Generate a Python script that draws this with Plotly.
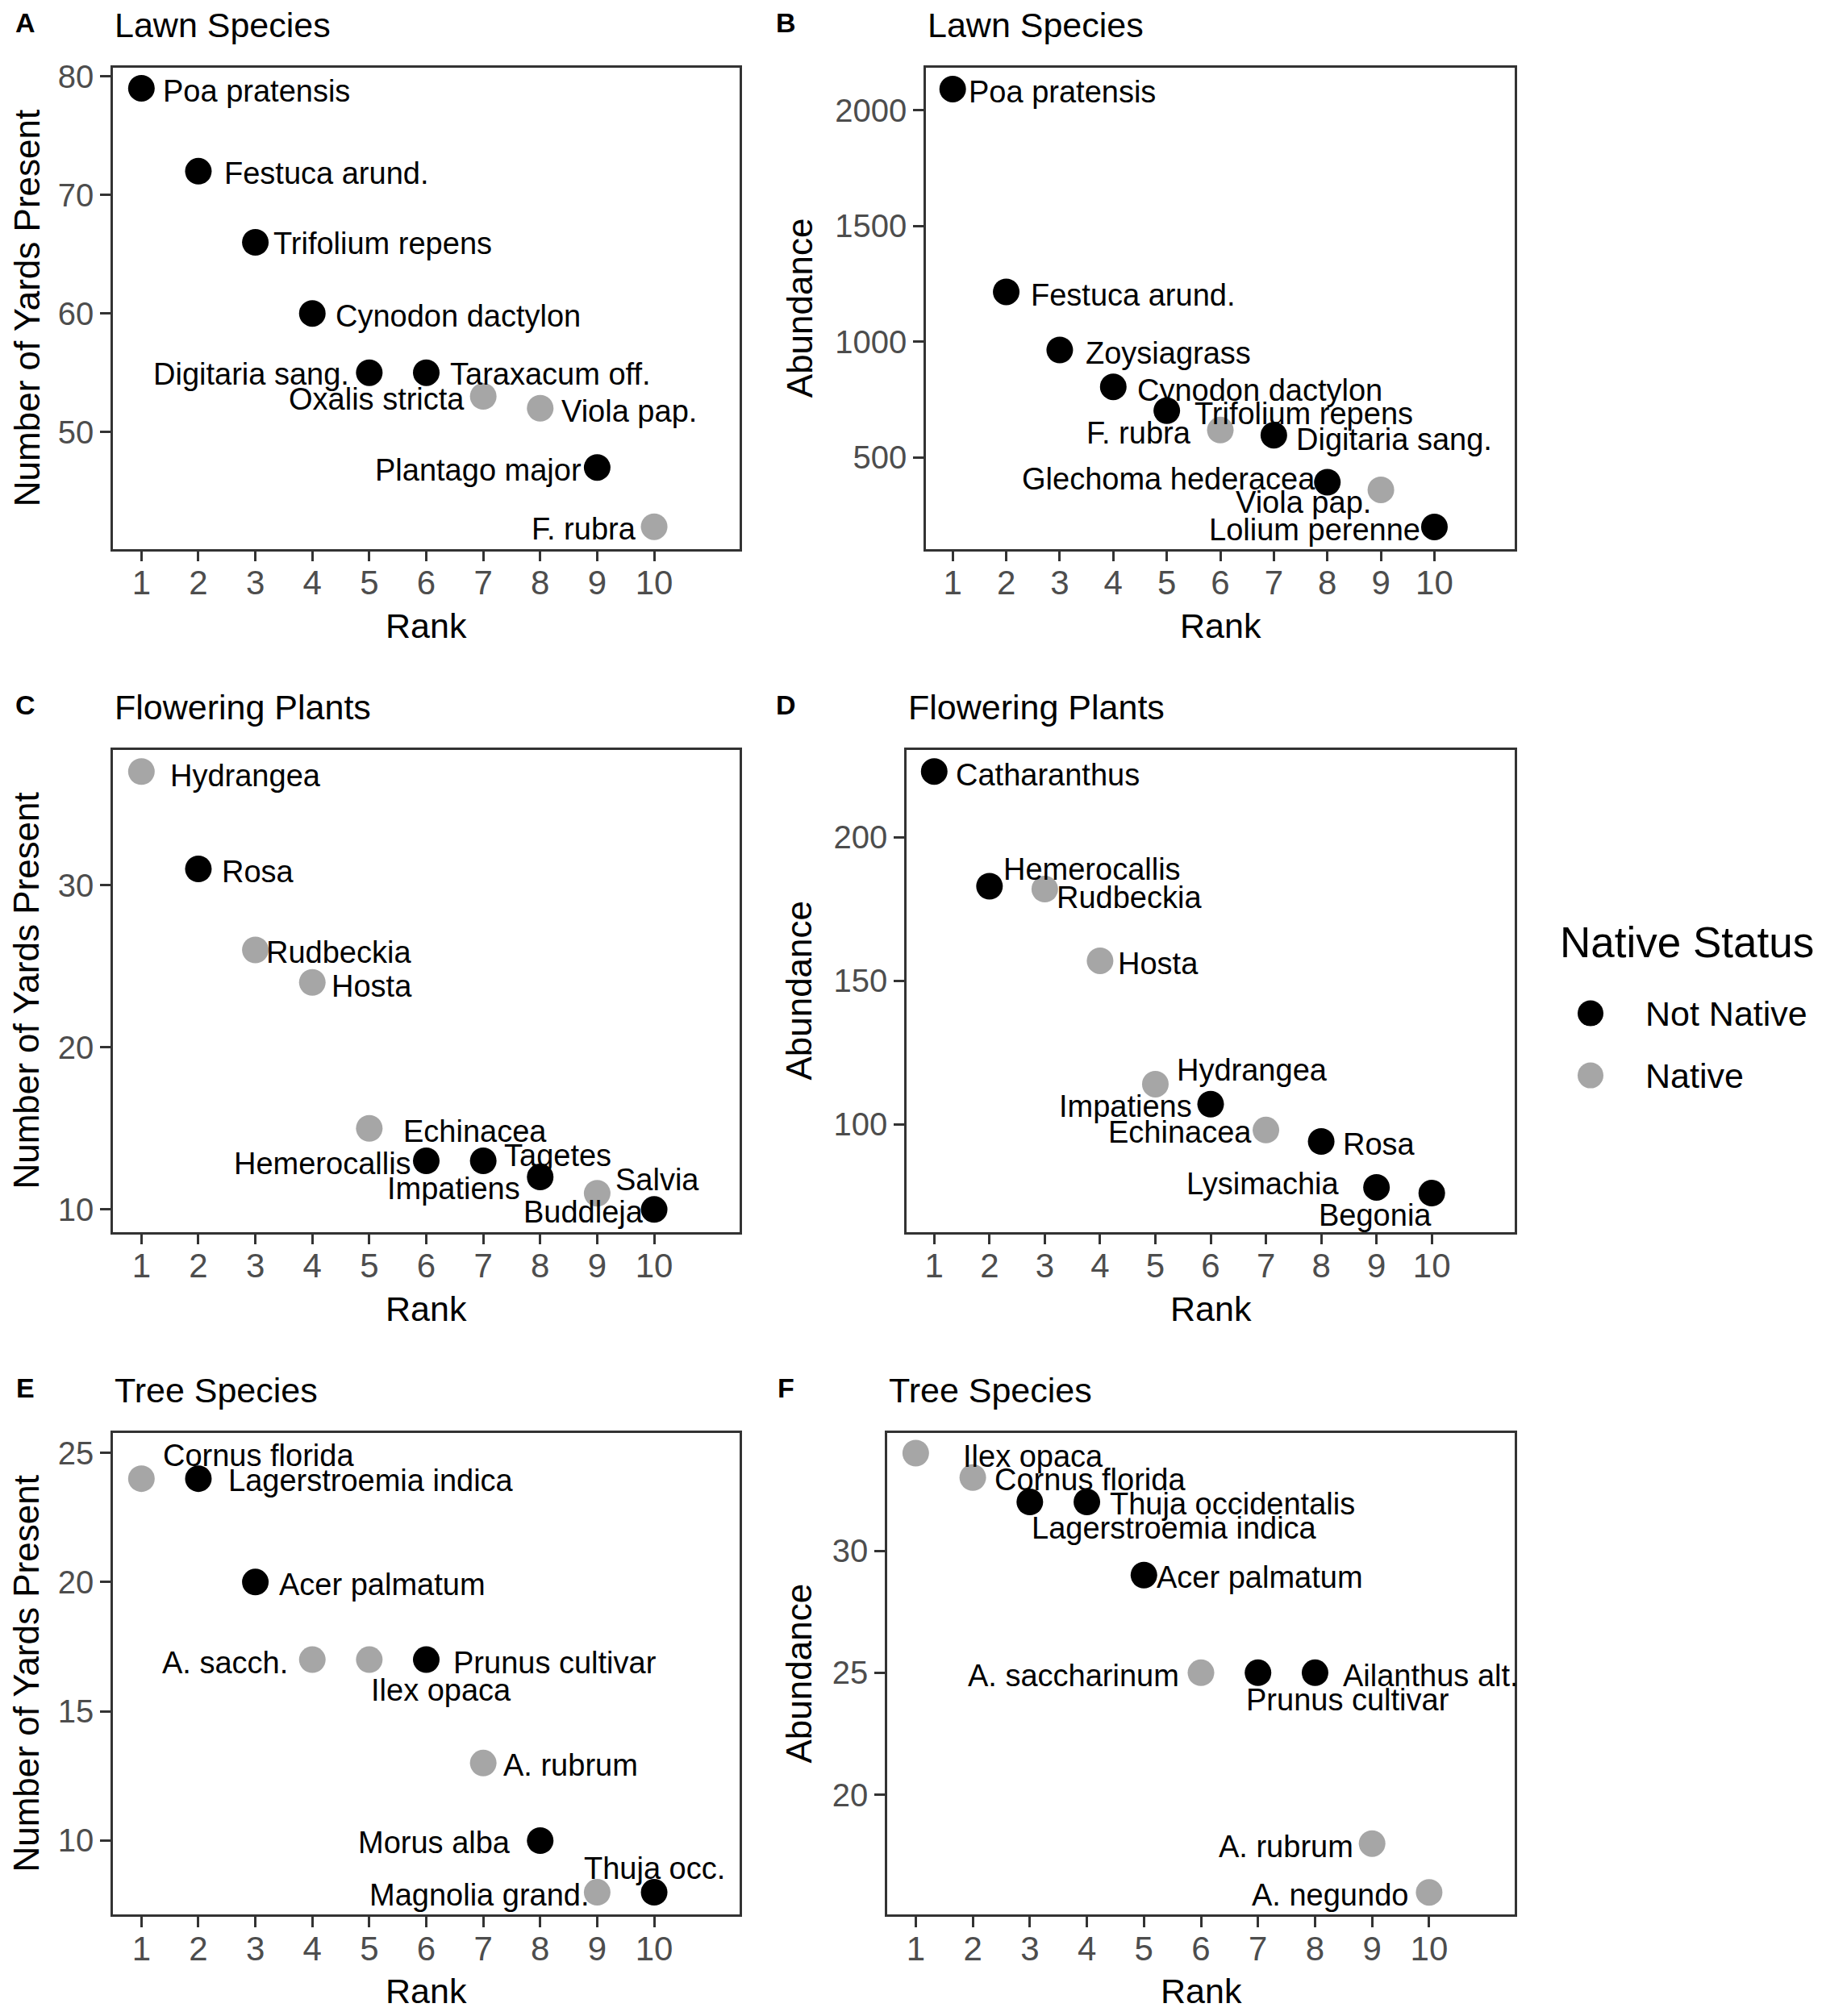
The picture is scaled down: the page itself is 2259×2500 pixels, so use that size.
import plotly.graph_objects as go

W, H = 2259, 2500
PAD = 8                      # browser body margin around the plot div
FW, FH = W - 2 * PAD, H - 2 * PAD
FONT = "Liberation Sans, Arial, sans-serif"


def px(x):
    return (x - PAD) / FW


def py(y):
    # small vertical correction measured against the reference
    y = y - 10 * (2380 - y) / 2300
    return 1 - (y - PAD) / FH


ranks = [1, 2, 3, 4, 5, 6, 7, 8, 9, 10]
statuses = ["Not Native", "Native"]
status_colors = {"Not Native": "#000000", "Native": "#A6A6A6"}
NN, NA = statuses

# A - lawn species, number of yards
lawn_yards_species = ["Poa pratensis", "Festuca arund.", "Trifolium repens", "Cynodon dactylon",
                      "Digitaria sang.", "Taraxacum off.", "Oxalis stricta", "Viola pap.",
                      "Plantago major", "F. rubra"]
lawn_yards_count = [79, 72, 66, 60, 55, 55, 53, 52, 47, 42]
lawn_yards_status = [NN, NN, NN, NN, NN, NN, NA, NA, NN, NA]

# B - lawn species, abundance
lawn_abund_species = ["Poa pratensis", "Festuca arund.", "Zoysiagrass", "Cynodon dactylon",
                      "Trifolium repens", "F. rubra", "Digitaria sang.", "Glechoma hederacea",
                      "Viola pap.", "Lolium perenne"]
lawn_abund_count = [2091, 1215, 964, 805, 702, 618, 596, 393, 360, 200]
lawn_abund_status = [NN, NN, NN, NN, NN, NA, NN, NN, NA, NN]

# C - flowering plants, number of yards
flower_yards_species = ["Hydrangea", "Rosa", "Rudbeckia", "Hosta", "Echinacea", "Hemerocallis",
                        "Tagetes", "Impatiens", "Salvia", "Buddleja"]
flower_yards_count = [37, 31, 26, 24, 15, 13, 13, 12, 11, 10]
flower_yards_status = [NA, NN, NA, NA, NA, NN, NN, NN, NA, NN]

# D - flowering plants, abundance
flower_abund_species = ["Catharanthus", "Hemerocallis", "Rudbeckia", "Hosta", "Hydrangea",
                        "Impatiens", "Echinacea", "Rosa", "Lysimachia", "Begonia"]
flower_abund_count = [223, 183, 182, 157, 114, 107, 98, 94, 78, 76]
flower_abund_status = [NN, NN, NA, NA, NA, NN, NA, NN, NN, NN]

# E - tree species, number of yards
tree_yards_species = ["Cornus florida", "Lagerstroemia indica", "Acer palmatum", "A. sacch.",
                      "Ilex opaca", "Prunus cultivar", "A. rubrum", "Morus alba",
                      "Magnolia grand.", "Thuja occ."]
tree_yards_count = [24, 24, 20, 17, 17, 17, 13, 10, 8, 8]
tree_yards_status = [NA, NN, NN, NA, NA, NN, NA, NN, NA, NN]

# F - tree species, abundance
tree_abund_species = ["Ilex opaca", "Cornus florida", "Lagerstroemia indica", "Thuja occidentalis",
                      "Acer palmatum", "A. saccharinum", "Prunus cultivar", "Ailanthus alt.",
                      "A. rubrum", "A. negundo"]
tree_abund_count = [34, 33, 32, 32, 29, 25, 25, 25, 18, 16]
tree_abund_status = [NA, NA, NN, NN, NN, NA, NN, NN, NA, NA]

# label placement (px offsets from the point, anchor) - mimics ggrepel layout
L, R, C = "left", "right", "center"
off_a = [(25, -4, L), (30, -3, L), (20, -2, L), (27, -3, L), (-23, -2, R),
         (27, -2, L), (-21, -3, R), (24, -4, L), (-17, -3, R), (-20, -3, R)]
off_b = [(18, -4, L), (28, -4, L), (30, -4, L), (28, -4, L), (32, -4, L),
         (-34, -4, R), (26, -5, L), (-13, 4, R), (-10, -16, R), (-15, -4, R)]
off_c = [(34, -5, L), (27, -4, L), (11, -3, L), (22, -5, L), (40, -4, L),
         (-17, -4, R), (24, 6, L), (-23, -14, R), (21, 17, L), (-11, -3, R)]
off_d = [(25, -4, L), (15, 21, L), (13, -10, L), (20, -4, L), (25, 17, L),
         (-21, -3, R), (-16, -3, R), (25, -3, L), (-44, 4, R), (2, -27, R)]
off_e = [(25, 29, L), (35, -2, L), (27, -3, L), (-28, -4, R), (0, -38, L),
         (31, -4, L), (23, -3, L), (-35, -3, R), (-7, -3, R), (0, 30, C)]
off_f = [(57, -4, L), (25, -3, L), (0, -33, L), (26, -3, L), (14, -3, L),
         (-25, -4, R), (-17, -34, L), (33, -4, L), (-21, -4, R), (-24, -3, R)]

# letter, title, y title, species, values, status, offsets, y range, dtick, box px (l, r, t, b)
panels = [
    ("A", "Lawn Species", "Number of Yards Present", lawn_yards_species, lawn_yards_count,
     lawn_yards_status, off_a, [40.13, 80.75], 10, (140, 917, 83, 680)),
    ("B", "Lawn Species", "Abundance", lawn_abund_species, lawn_abund_count,
     lawn_abund_status, off_b, [105, 2184], 500, (1148, 1878, 83, 680)),
    ("C", "Flowering Plants", "Number of Yards Present", flower_yards_species, flower_yards_count,
     flower_yards_status, off_c, [8.62, 38.35], 10, (140, 917, 929, 1527)),
    ("D", "Flowering Plants", "Abundance", flower_abund_species, flower_abund_count,
     flower_abund_status, off_d, [62.5, 230.6], 50, (1124, 1878, 929, 1527)),
    ("E", "Tree Species", "Number of Yards Present", tree_yards_species, tree_yards_count,
     tree_yards_status, off_e, [7.13, 25.78], 5, (140, 917, 1776, 2374)),
    ("F", "Tree Species", "Abundance", tree_abund_species, tree_abund_count,
     tree_abund_status, off_f, [15.08, 34.84], 5, (1100, 1878, 1776, 2374)),
]

fig = go.Figure()
annotations = []
layout = {}

for i, (letter, title, ytitle, species, vals, stat, offs, yr, dt, box) in enumerate(panels, start=1):
    l, r, t, b = box
    xa, ya = f"x{i}", f"y{i}"
    for st in statuses:
        xs = [rk for rk, s in zip(ranks, stat) if s == st]
        ys = [v for v, s in zip(vals, stat) if s == st]
        fig.add_trace(go.Scatter(x=xs, y=ys, mode="markers", name=st, xaxis=xa, yaxis=ya,
                                 marker=dict(size=33, color=status_colors[st]),
                                 showlegend=False, cliponaxis=False))
    for rk, v, name, (dx, dy, anc) in zip(ranks, vals, species, offs):
        annotations.append(dict(x=rk, y=v, xref=xa, yref=ya, text=name, showarrow=False,
                                xanchor=anc, yanchor="middle", xshift=dx, yshift=dy,
                                font=dict(size=38, color="black", family=FONT)))
    axis_common = dict(showline=True, mirror=True, linecolor="#333333", linewidth=2.5,
                       ticks="outside", ticklen=13, tickwidth=3, tickcolor="#333333",
                       showgrid=False, zeroline=False)
    layout[f"xaxis{i}"] = dict(domain=[px(l), px(r)], range=[0.5, 11.5], tickvals=ranks,
                               anchor=ya, ticklabelstandoff=-10,
                               tickfont=dict(size=42, color="#4D4D4D", family=FONT),
                               **axis_common)
    layout[f"yaxis{i}"] = dict(domain=[py(b), py(t)], range=yr, dtick=dt, tick0=0,
                               anchor=xa, tickfont=dict(size=40, color="#4D4D4D", family=FONT),
                               **axis_common)
    # panel letter and title
    lx = 31 if l < 1000 else 974
    ty = t - 53
    annotations.append(dict(x=px(lx), y=py(ty - 3), xref="paper", yref="paper",
                            text=f"<b>{letter}</b>", showarrow=False, xanchor="center",
                            yanchor="middle", font=dict(size=34, color="black", family=FONT)))
    annotations.append(dict(x=px(l), y=py(ty), xref="paper", yref="paper", text=title,
                            showarrow=False, xanchor="left", yanchor="middle",
                            font=dict(size=43, color="black", family=FONT)))
    # axis titles
    annotations.append(dict(x=px((l + r) / 2), y=py(b + 95), xref="paper", yref="paper",
                            text="Rank", showarrow=False, xanchor="center", yanchor="middle",
                            font=dict(size=43, color="black", family=FONT)))
    yx = 33 if l < 1000 else 991
    annotations.append(dict(x=px(yx), y=py((t + b) / 2), xref="paper", yref="paper",
                            text=ytitle, showarrow=False, textangle=-90,
                            xanchor="center", yanchor="middle",
                            font=dict(size=44, color="black", family=FONT)))

# legend drawn on its own hidden axis so the keys can be full size
key_y = [len(statuses) - 1 - k for k in range(len(statuses))]
fig.add_trace(go.Scatter(x=[0] * len(statuses), y=key_y, mode="markers", xaxis="x7", yaxis="y7",
                         marker=dict(size=32, color=[status_colors[s] for s in statuses]),
                         showlegend=False, cliponaxis=False, hoverinfo="skip"))
for st, ky in zip(statuses, key_y):
    annotations.append(dict(x=0, y=ky, xref="x7", yref="y7", text=st, showarrow=False,
                            xanchor="left", yanchor="middle", xshift=66,
                            font=dict(size=43, color="black", family=FONT)))
annotations.append(dict(x=px(1932), y=py(1168), xref="paper", yref="paper",
                        text="Native Status", showarrow=False, xanchor="left", yanchor="middle",
                        font=dict(size=53, color="black", family=FONT)))
layout["xaxis7"] = dict(domain=[px(1952), px(1992)], range=[-1, 1], visible=False, anchor="y7")
layout["yaxis7"] = dict(domain=[py(1371.5), py(1217.5)], range=[-0.5, 1.5],
                        visible=False, anchor="x7")

fig.update_layout(width=FW, height=FH, margin=dict(l=0, r=0, t=0, b=0),
                  paper_bgcolor="white", plot_bgcolor="white", showlegend=False,
                  font=dict(family=FONT), annotations=annotations, **layout)

fig.write_html("out.html")
